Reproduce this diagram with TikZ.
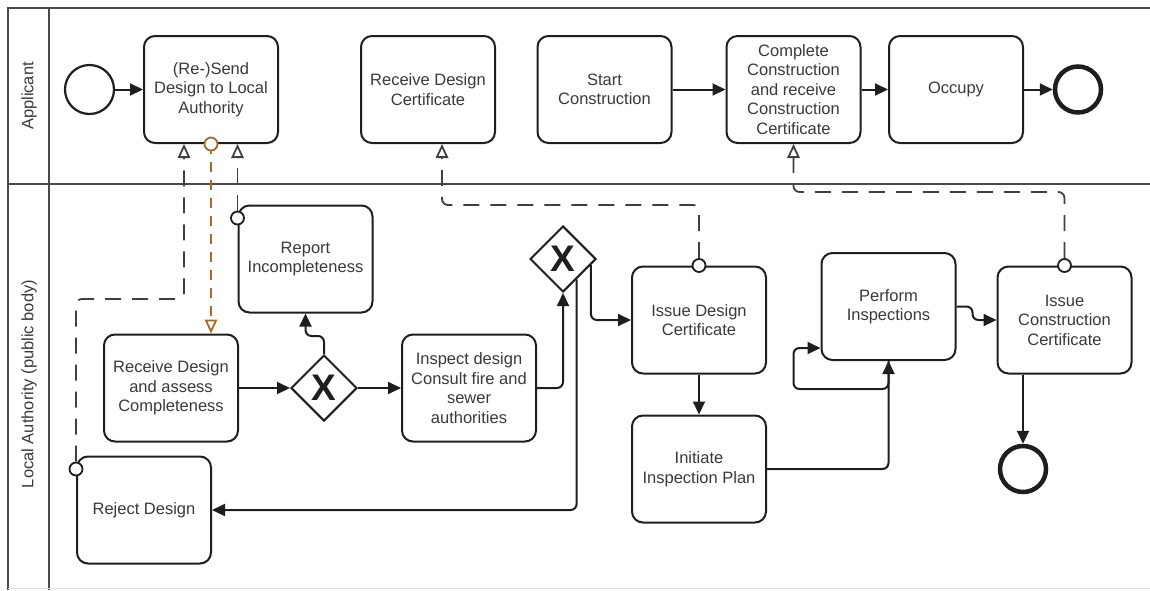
\documentclass[tikz,border=0pt]{standalone}
\usepackage{fontspec}
\setmainfont{Liberation Sans}
\usetikzlibrary{arrows.meta,shapes.geometric,calc}
\definecolor{ink}{HTML}{1E1E1E}
\definecolor{txt}{HTML}{3A3A3A}
\definecolor{poolline}{HTML}{4A4A4A}
\definecolor{msgor}{HTML}{A86A28}

\tikzset{
  task/.style={draw=ink, line width=2pt, rounded corners=11pt, fill=white,
    minimum width=134pt, minimum height=107pt, align=center, text=txt, inner sep=2pt},
  gate/.style={diamond, draw=ink, line width=2pt, fill=white, minimum width=66pt,
    minimum height=66pt, inner sep=0pt, text=ink,
    font=\fontsize{37}{37}\selectfont\bfseries},
  startev/.style={circle, draw=ink, line width=2.2pt, minimum size=49pt, inner sep=0pt},
  endev/.style={circle, draw=ink, line width=4.5pt, minimum size=46pt, inner sep=0pt},
  seqtip/.tip={Triangle[length=13pt,width=12pt]},
  msgtip/.tip={Triangle[open,length=14pt,width=12.5pt]},
  seq/.style={draw=ink, line width=2pt, -seqtip},
  msg/.style={draw=ink!85, line width=1.8pt,
    dash pattern=on 16pt off 11pt, -msgtip},
  msgo/.style={msg, draw=msgor, dash pattern=on 10pt off 8pt},
  elbow/.style={rounded corners=6pt},
  msgdot/.style={circle, draw=ink, fill=white, line width=1.8pt, minimum size=13pt, inner sep=0pt},
  lanelabel/.style={rotate=90, text=txt},
  poolstroke/.style={draw=poolline, line width=2pt}
}

\begin{document}
\begin{tikzpicture}[x=1pt, y=-1pt, font=\fontsize{16.5}{19.5}\selectfont]
\useasboundingbox (0,0) rectangle (1150,590);

% pool frame and lanes
\draw[poolstroke] (8,590) -- (8,8) -- (1150,8);
\draw[poolstroke] (49,8) -- (49,590);
\draw[poolstroke] (8,184) -- (1150,184);
\draw[draw=black!12, line width=1.5pt] (8,588.5) -- (1150,588.5);
\node[lanelabel] (laneA) at (29,96) {Applicant};
\node[lanelabel] (laneB) at (29,384) {Local Authority (public body)};

% applicant lane
\node[startev] (start) at (89.5,89.5) {};
\node[task] (send) at (211,89.5) {(Re-)Send\\Design to Local\\Authority};
\node[task] (rdc) at (428,89.5) {Receive Design\\Certificate};
\node[task] (sc) at (604.5,89.5) {Start\\Construction};
\node[task] (cc) at (793.5,89.5) {Complete\\Construction\\and receive\\Construction\\Certificate};
\node[task] (occ) at (956,89.5) {Occupy};
\node[endev] (end1) at (1078,89.5) {};

% local authority lane
\node[task] (rep) at (305.5,259) {Report\\Incompleteness};
\node[task] (rcv) at (171,388) {Receive Design\\and assess\\Completeness};
\node[gate] (gw1) at (324,388) {X};
\node[task] (rej) at (144,510) {Reject Design};
\node[task] (insp) at (469,388) {Inspect design\\Consult fire and\\sewer\\authorities};
\node[gate] (gw2) at (563,259) {X};
\node[task] (idc) at (699,320) {Issue Design\\Certificate};
\node[task] (iip) at (699,469) {Initiate\\Inspection Plan};
\node[task] (pi) at (888.5,306.5) {Perform\\Inspections};
\node[task] (icc) at (1064.5,320) {Issue\\Construction\\Certificate};
\node[endev] (end2) at (1023,469) {};

% sequence flows
\draw[seq] (start) -- (send);
\draw[seq] (sc) -- (cc);
\draw[seq] (cc) -- (occ);
\draw[seq] (occ) -- (end1);
\draw[seq] (rcv) -- (gw1);
\draw[seq] (gw1) -- (insp);
\draw[seq, elbow] (gw1.north) -- ++(0,-18) -| (rep.south);
\draw[seq, elbow] (insp.east) -| (gw2.south);
\draw[seq, elbow] ($(gw2.east)!0.18!(gw2.south)$) |- (idc.west);
\draw[seq, elbow] ($(gw2.east)!0.6!(gw2.south)$) |- (rej.east);
\draw[seq] (idc) -- (iip);
\draw[seq, elbow] (iip.east) -| (pi.south);
\draw[seq, elbow] (pi.south) -- ++(0,28) -- ++(-95,0) |- ([yshift=-41.5pt]pi.west);
\draw[seq, elbow] (pi.east) -- ++(16,0) |- (icc.west);
\draw[seq] (end2.north |- icc.south) -- (end2.north);

% message flows
\coordinate (rejturn) at (184,299);
\coordinate (idcturn) at (442,205);
\coordinate (iccturn) at (793.5,192);

\draw[msgo] (send.south) -- (send.south |- rcv.north);
\node[msgdot, draw=msgor] (msend) at (send.south) {};

\node[msgdot] (mrep) at ([yshift=41pt]rep.west) {};
\draw[msg] (mrep) -- (mrep |- send.south);

\node[msgdot] (mrej) at ([yshift=41pt]rej.west) {};
\draw[msg, elbow] (mrej) |- (rejturn) -- ([xshift=-27pt]send.south);

\node[msgdot] (midc) at (idc.north) {};
\draw[msg, elbow] (midc) |- (idcturn) -- ([xshift=14pt]rdc.south);

\node[msgdot] (micc) at (icc.north) {};
\draw[msg, elbow] (micc) |- (iccturn) -- (cc.south);
\end{tikzpicture}
\end{document}
